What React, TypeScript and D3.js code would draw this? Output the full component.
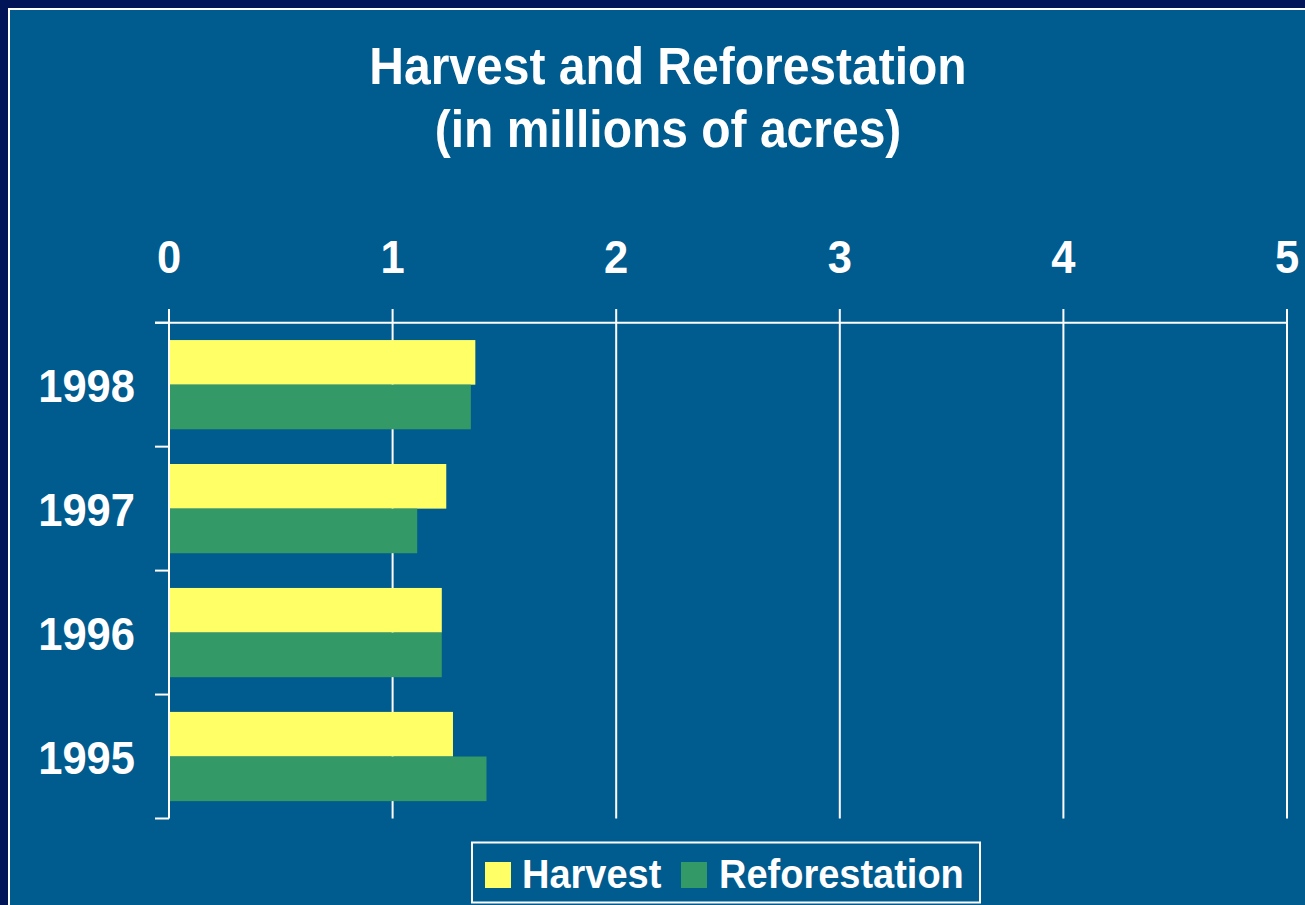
import React from "react";
import * as d3 from "d3";

const categories = ["1998", "1997", "1996", "1995"];
const harvest = [1.37, 1.24, 1.22, 1.27];
const reforestation = [1.35, 1.11, 1.22, 1.42];
const seriesNames = ["Harvest", "Reforestation"];
const xTicks = [0, 1, 2, 3, 4, 5];
const titleLines = ["Harvest and Reforestation", "(in millions of acres)"];

const W = 1305;
const H = 905;
const FONT = "'Liberation Sans', Arial, Helvetica, sans-serif";
const OUTER = "#001458";
const INNER = "#005b8e";
const COLORS = ["#ffff66", "#339966"];
const SY = 1.08;

export default function App() {
  const x = d3.scaleLinear().domain([0, 5]).range([169, 1287]);
  const y = d3
    .scaleBand<string>()
    .domain(categories)
    .range([322.7, 818.5])
    .paddingInner(0.28)
    .paddingOuter(0.14);
  const sub = d3.scaleBand<string>().domain(seriesNames).range([0, y.bandwidth()]);
  const series = [harvest, reforestation];
  const step = y.step();
  const top = 322.7;
  const bottom = 818.5;
  const boundaries = categories.map((_, i) => top + i * step).concat([bottom]);

  const T = (props: any) => {
    const { x: tx, y: ty, children, ...rest } = props;
    return (
      <text
        transform={`translate(${tx},${ty}) scale(1,${SY})`}
        fill="#fff"
        fontFamily={FONT}
        fontWeight="bold"
        {...rest}
      >
        {children}
      </text>
    );
  };

  return (
    <div style={{ position: "fixed", left: 0, top: 0 }}>
      <svg width={W} height={H} style={{ display: "block" }}>
        <rect x={0} y={0} width={W} height={H} fill={OUTER} />
        <rect x={9} y={9} width={W + 50} height={H + 50} fill={INNER} stroke="#ffffff" strokeWidth={2} />

        {titleLines.map((t, i) => (
          <T key={t} x={668} y={i === 0 ? 84 : 147} textAnchor="middle" fontSize={48}>
            {t}
          </T>
        ))}

        {/* grid lines */}
        {xTicks.map((t) => (
          <line key={"g" + t} x1={x(t)} x2={x(t)} y1={309} y2={bottom} stroke="#fff" strokeWidth={2} />
        ))}
        <line x1={155} x2={x(5)} y1={top} y2={top} stroke="#fff" strokeWidth={2} />
        {boundaries.map((b, i) => (
          <line key={"yt" + i} x1={155} x2={169} y1={b} y2={b} stroke="#fff" strokeWidth={2} />
        ))}

        {/* bars */}
        {categories.map((c, i) => (
          <g key={c}>
            {series.map((s, j) => (
              <rect
                key={j}
                x={x(0) + 1}
                y={(y(c) as number) + (sub(seriesNames[j]) as number)}
                width={x(s[i]) - x(0) - 1}
                height={sub.bandwidth()}
                fill={COLORS[j]}
              />
            ))}
          </g>
        ))}

        {/* x tick labels */}
        {xTicks.map((t) => (
          <T key={"xl" + t} x={x(t)} y={273} textAnchor="middle" fontSize={43.5}>
            {String(t)}
          </T>
        ))}

        {/* y labels */}
        {categories.map((c) => (
          <T key={"yl" + c} x={135} y={(y(c) as number) + y.bandwidth() / 2 + 17} textAnchor="end" fontSize={43.5}>
            {c}
          </T>
        ))}

        {/* legend */}
        <rect x={472} y={842.5} width={508} height={60} fill="none" stroke="#fff" strokeWidth={2} />
        <rect x={485} y={862} width={26} height={26} fill={COLORS[0]} />
        <T x={522} y={887.5} fontSize={38}>
          {seriesNames[0]}
        </T>
        <rect x={681} y={862} width={26} height={26} fill={COLORS[1]} />
        <T x={719} y={887.5} fontSize={38}>
          {seriesNames[1]}
        </T>
      </svg>
    </div>
  );
}
